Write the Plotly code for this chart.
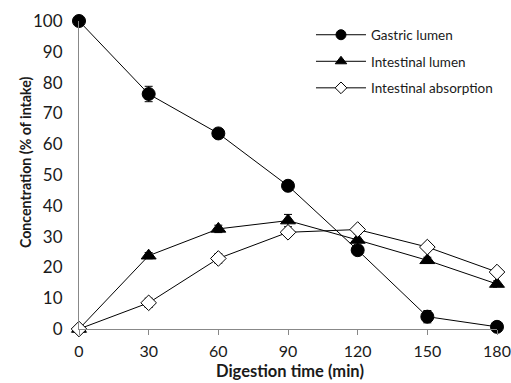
import plotly.graph_objects as go

time = [0, 30, 60, 90, 120, 150, 180]
gastric = [100, 76.3, 63.5, 46.5, 25.6, 4.0, 0.7]
gastric_err = [0, 2.5, 0.8, 1.2, 1.0, 2.0, 0.3]
intestinal = [0, 23.8, 32.5, 35.2, 28.9, 22.3, 14.6]
intestinal_err = [0, 1.0, 1.2, 2.0, 2.0, 1.0, 1.0]
absorption = [0, 8.5, 22.9, 31.4, 32.3, 26.6, 18.5]
absorption_err = [0, 1.5, 1.5, 1.0, 0.8, 0.8, 0.8]

x_title = "Digestion time (min)"
y_title = "Concentration (% of intake)"

font_family = "Lato, 'Open Sans', sans-serif"

fig = go.Figure()

def add(name, y, err, symbol, fill, size, lsize):
    fig.add_trace(go.Scatter(
        x=time, y=y, name=name, mode="lines+markers",
        line=dict(color="black", width=1),
        marker=dict(symbol=symbol, size=size, color=fill,
                    line=dict(color="black", width=1)),
        error_y=dict(type="data", array=err, visible=True,
                     color="black", thickness=1, width=4),
        cliponaxis=False, showlegend=False,
    ))
    fig.add_trace(go.Scatter(
        x=[None], y=[None], name=name, mode="lines+markers",
        line=dict(color="black", width=1),
        marker=dict(symbol=symbol, size=lsize, color=fill,
                    line=dict(color="black", width=1)),
        legendgroup=name, showlegend=True,
    ))

add("Gastric lumen", gastric, gastric_err, "circle", "black", 13, 10)
add("Intestinal lumen", intestinal, intestinal_err, "triangle-up", "black", 13, 10)
add("Intestinal absorption", absorption, absorption_err, "diamond", "white", 12, 9)

fig.add_annotation(text="<b>" + x_title + "</b>", xref="paper", yref="paper",
                   x=0.505, y=0, yshift=-42, showarrow=False,
                   xanchor="center", yanchor="middle", borderpad=0,
                   font=dict(size=16.5, color="#1a1a1a"))
fig.add_annotation(text="<b>" + y_title + "</b>", xref="paper", yref="paper",
                   x=0, y=0.542, xshift=-54, showarrow=False, textangle=-90,
                   xanchor="center", yanchor="middle", borderpad=0,
                   font=dict(size=14.2, color="#1a1a1a"))

fig.update_layout(
    width=511, height=383,
    margin=dict(l=79, r=14, t=21, b=54),
    paper_bgcolor="white", plot_bgcolor="white",
    font=dict(family=font_family, color="#1a1a1a", size=17),
    showlegend=True,
    legend=dict(x=0.555, y=1.005, xanchor="left", yanchor="top",
                font=dict(size=13.5, color="#1a1a1a"),
                bgcolor="rgba(0,0,0,0)", tracegroupgap=6, itemwidth=50),
    xaxis=dict(range=[0, 180], tickvals=time, showgrid=False, zeroline=False,
               showline=True, linecolor="#888", linewidth=1,
               ticks="outside", ticklen=5, tickcolor="#888",
               tickfont=dict(size=16), ticklabelstandoff=3, automargin=False,
               ticklabeloverflow="allow"),
    yaxis=dict(range=[0, 100], tickvals=list(range(0, 101, 10)), showgrid=False,
               zeroline=False, showline=True, linecolor="#888", linewidth=1,
               ticks="", tickfont=dict(size=17), ticklabelstandoff=12, automargin=False,
               ticklabeloverflow="allow"),
)

fig.write_html("out.html")
